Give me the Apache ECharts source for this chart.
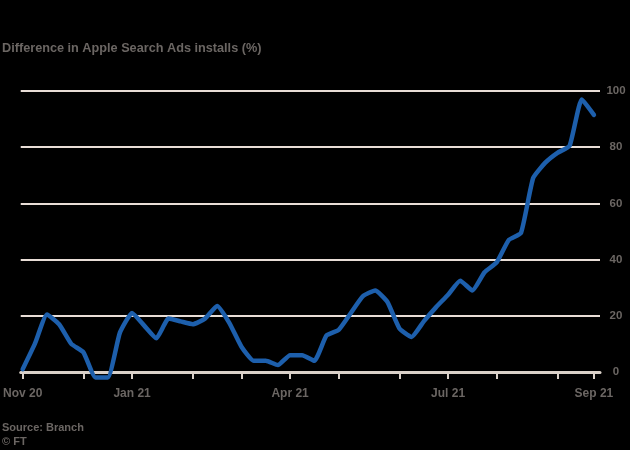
<!DOCTYPE html>
<html>
<head>
<meta charset="utf-8">
<script src="https://cdn.jsdelivr.net/npm/echarts@6/dist/echarts.min.js"></script>
<style>
html,body{margin:0;padding:0;background:#000;}
#chart{width:630px;height:450px;}
</style>
</head>
<body>
<div id="chart"></div>
<script>
// Weekly observations (week starting)
const weeks = [
  "2020-11-02","2020-11-09","2020-11-16","2020-11-23","2020-11-30",
  "2020-12-07","2020-12-14","2020-12-21","2020-12-28",
  "2021-01-04","2021-01-11","2021-01-18","2021-01-25",
  "2021-02-01","2021-02-08","2021-02-15","2021-02-22",
  "2021-03-01","2021-03-08","2021-03-15","2021-03-22","2021-03-29",
  "2021-04-05","2021-04-12","2021-04-19","2021-04-26",
  "2021-05-03","2021-05-10","2021-05-17","2021-05-24","2021-05-31",
  "2021-06-07","2021-06-14","2021-06-21","2021-06-28",
  "2021-07-05","2021-07-12","2021-07-19","2021-07-26",
  "2021-08-02","2021-08-09","2021-08-16","2021-08-23","2021-08-30",
  "2021-09-06","2021-09-13","2021-09-20","2021-09-27"
];
// Difference in Apple Search Ads installs (%)
const installsDiff = [
  1, 10, 20.5, 17, 10, 7, -2, -2, 14, 21,
  16.5, 12, 19, 18, 17, 19, 23.5, 17.5, 9, 4,
  4, 2.5, 6, 6, 4, 13, 15, 21, 27, 29,
  25, 15.5, 12.5, 18, 23, 27.5, 32.5, 29, 35.5, 39,
  47, 49.5, 69, 74.5, 78, 80.5, 97, 91.5
];
// x-axis tick positions (week index) and labelled ticks
const tickWeeks = [0, 5, 9, 14, 18, 22, 26, 31, 35, 39, 44, 47];
const labelWeeks = [0, 9, 22, 35, 47];
const tickLabels = ["Nov 20", "Jan 21", "Apr 21", "Jul 21", "Sep 21"];
const yTicks = [0, 20, 40, 60, 80, 100];

const titleText = "Difference in Apple Search Ads installs (%)";
const sourceText = "Source: Branch";
const creditText = "\u00A9 FT";

const chart = echarts.init(document.getElementById('chart'), null, {renderer: 'canvas'});
const textColor = '#6b6663';
const gridColor = '#e8ddd6';
const fontFam = '"Liberation Sans", Arial, sans-serif';

chart.setOption({
  backgroundColor: '#000000',
  animation: false,
  title: [
    {text: titleText, left: 2, top: 42, padding: 0, textStyle: {color: textColor, fontSize: 12.7, fontWeight: 'bold', fontFamily: fontFam}},
    {text: sourceText, left: 2, top: 422, padding: 0, textStyle: {color: textColor, fontSize: 11, fontWeight: 'bold', fontFamily: fontFam}},
    {text: creditText, left: 2, top: 436, padding: 0, textStyle: {color: textColor, fontSize: 11, fontWeight: 'bold', fontFamily: fontFam}}
  ],
  grid: {left: 20, right: 30, top: 91, bottom: 78, containLabel: false},
  xAxis: {
    type: 'value',
    min: -0.16,
    max: 47.5,
    axisLine: {show: true, lineStyle: {color: '#d9d0c8', width: 3}},
    axisTick: {show: true, customValues: tickWeeks, length: 7, lineStyle: {color: '#d9d0c8', width: 2}},
    axisLabel: {
      show: true,
      customValues: labelWeeks,
      formatter: function (v) {
        const k = labelWeeks.indexOf(Math.round(v));
        return k >= 0 ? tickLabels[k] : '';
      },
      color: textColor, fontSize: 12, fontWeight: 'bold', fontFamily: fontFam, margin: 16
    },
    splitLine: {show: false}
  },
  yAxis: {
    type: 'value',
    position: 'right',
    min: 0, max: 100, interval: 20,
    axisLine: {show: false},
    axisTick: {show: false},
    axisLabel: {
      color: textColor, fontSize: 11.5, fontWeight: 'bold', fontFamily: fontFam,
      align: 'center', margin: 16,
      formatter: function (v) { return yTicks.indexOf(v) >= 0 ? String(v) : ''; }
    },
    splitLine: {show: true, lineStyle: {color: gridColor, width: 2}}
  },
  series: [{
    type: 'line',
    data: installsDiff.map((v, i) => [i, v]),
    showSymbol: false,
    smooth: 0.15,
    clip: false,
    lineStyle: {color: '#1d5fac', width: 4.5, join: 'round', cap: 'round'},
    z: 5
  }]
});
</script>
</body>
</html>
